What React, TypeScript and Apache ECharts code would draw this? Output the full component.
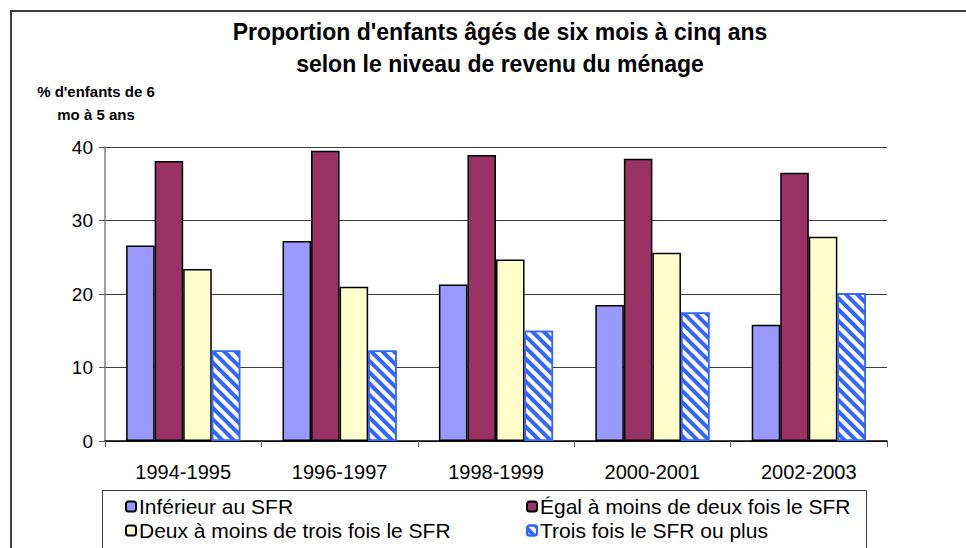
import React, { useEffect, useRef } from "react";
import * as echarts from "echarts";

const categories = ["1994-1995", "1996-1997", "1998-1999", "2000-2001", "2002-2003"];
const seriesNames = [
  "Inférieur au SFR",
  "Égal à moins de deux fois le SFR",
  "Deux à moins de trois fois le SFR",
  "Trois fois le SFR ou plus",
];
const inferieur = [26.6, 27.2, 21.3, 18.5, 15.8];
const egalDeux = [38.1, 39.5, 38.9, 38.4, 36.5];
const deuxTrois = [23.4, 21.0, 24.7, 25.6, 27.8];
const troisPlus = [12.3, 12.3, 15.0, 17.5, 20.1];
const yTicks = { min: 0, max: 40, interval: 10 };
const titleLines = [
  "Proportion d'enfants âgés de six mois à cinq ans",
  "selon le niveau de revenu du ménage",
];
const yNameLines = ["% d'enfants de 6", "mo à 5 ans"];

const FONT = "Arial, 'Liberation Sans', Helvetica, sans-serif";

export default function App() {
  const ref = useRef<HTMLDivElement>(null);
  useEffect(() => {
    if (!ref.current) return;
    const chart = echarts.init(ref.current, null, { renderer: "svg" });
    const solid = (color: string) => ({
      color,
      borderColor: "#000",
      borderWidth: 1.5,
    });
    const legendText = { fontSize: 21, color: "#000", fontFamily: FONT, padding: [0, 0, 0, -2] };
    chart.setOption({
      animation: false,
      backgroundColor: "#fff",
      textStyle: { fontFamily: FONT },
      grid: { left: 105, right: 79, top: 147, bottom: 107, containLabel: false },
      graphic: [
        {
          type: "rect",
          shape: { x: 11, y: 11, width: 1000, height: 600 },
          style: { fill: "none", stroke: "#404040", lineWidth: 2 },
          silent: true,
        },
        {
          type: "rect",
          shape: { x: 102.5, y: 490.5, width: 764, height: 100 },
          style: { fill: "#fff", stroke: "#404040", lineWidth: 1 },
          silent: true,
          z: -1,
        },
        {
          type: "text",
          x: 500,
          y: 32,
          style: {
            text: titleLines[0],
            font: `bold 23px ${FONT}`,
            fill: "#000",
            textAlign: "center",
            textVerticalAlign: "middle",
          },
        },
        {
          type: "text",
          x: 500,
          y: 64,
          style: {
            text: titleLines[1],
            font: `bold 23px ${FONT}`,
            fill: "#000",
            textAlign: "center",
            textVerticalAlign: "middle",
          },
        },
        {
          type: "text",
          x: 96,
          y: 91,
          style: {
            text: yNameLines[0],
            font: `bold 15px ${FONT}`,
            fill: "#000",
            textAlign: "center",
            textVerticalAlign: "middle",
          },
        },
        {
          type: "text",
          x: 96,
          y: 114,
          style: {
            text: yNameLines[1],
            font: `bold 15px ${FONT}`,
            fill: "#000",
            textAlign: "center",
            textVerticalAlign: "middle",
          },
        },
      ],
      legend: [
        {
          orient: "vertical",
          left: 125,
          top: 496,
          itemWidth: 10,
          itemHeight: 10,
          itemGap: 3,
          padding: 0,
          textStyle: legendText,
          data: [seriesNames[0], seriesNames[2]],
        },
        {
          orient: "vertical",
          left: 526,
          top: 496,
          itemWidth: 10,
          itemHeight: 10,
          itemGap: 3,
          padding: 0,
          textStyle: legendText,
          data: [seriesNames[1], seriesNames[3]],
        },
      ],
      xAxis: {
        type: "category",
        data: categories,
        axisLine: { show: true, lineStyle: { color: "#000", width: 1.5 } },
        axisTick: { show: true, alignWithLabel: false, length: 6, lineStyle: { color: "#555" } },
        axisLabel: { fontSize: 20, color: "#000", margin: 21, fontFamily: FONT },
        splitLine: { show: false },
      },
      yAxis: {
        type: "value",
        min: yTicks.min,
        max: yTicks.max,
        interval: yTicks.interval,
        axisLine: { show: true, lineStyle: { color: "#808080", width: 1.5 } },
        axisTick: { show: true, length: 6, lineStyle: { color: "#555" } },
        axisLabel: { fontSize: 19, color: "#000", margin: 12, fontFamily: FONT },
        splitLine: { show: true, lineStyle: { color: "#404040", width: 1 } },
      },
      series: [
        {
          name: seriesNames[0],
          type: "bar",
          data: inferieur,
          barGap: "0%",
          barCategoryGap: "27%",
          itemStyle: solid("#9999FF"),
        },
        {
          name: seriesNames[1],
          type: "bar",
          data: egalDeux,
          itemStyle: solid("#993366"),
        },
        {
          name: seriesNames[2],
          type: "bar",
          data: deuxTrois,
          itemStyle: solid("#FFFFCC"),
        },
        {
          name: seriesNames[3],
          type: "bar",
          data: troisPlus,
          itemStyle: {
            color: "#fff",
            borderColor: "#3366FF",
            borderWidth: 1.5,
            decal: {
              symbol: "rect",
              color: "#3366FF",
              backgroundColor: "#fff",
              dashArrayX: [1, 0],
              dashArrayY: [4, 4],
              rotation: Math.PI / 4,
            },
          },
        },
      ],
    });
    return () => chart.dispose();
  }, []);
  return (
    <div
      ref={ref}
      style={{ position: "fixed", left: 0, top: 0, width: 966, height: 548 }}
    />
  );
}
